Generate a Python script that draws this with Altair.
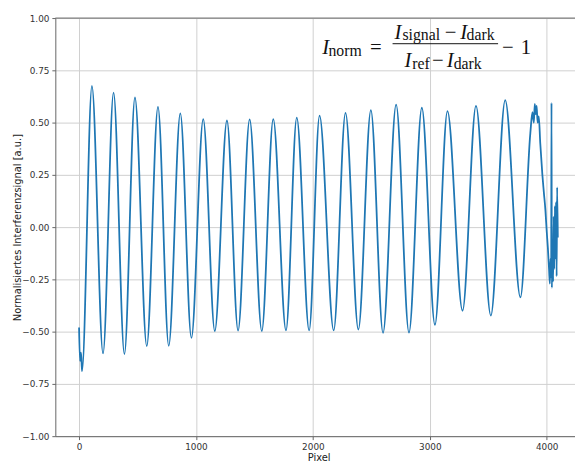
import altair as alt
import pandas as pd

# Extrema / noise points (pixel index, normalised signal)
pixel = [0, 8, 17, 25,
         110, 205, 295, 388, 478, 579, 675, 767, 866, 961,
         1062, 1161, 1265, 1360, 1459, 1563, 1661, 1770, 1862, 1968,
         2057, 2178, 2279, 2389, 2496, 2600, 2712, 2822, 2932, 3044,
         3151, 3280, 3395, 3522, 3645, 3775, 3860, 3878, 3890, 3898, 3906,
         3914, 3922, 3932, 3945, 3963, 3975, 3989, 4000, 4010, 4020, 4027,
         4033, 4038, 4041, 4044, 4050, 4055, 4060, 4065, 4070, 4075, 4080,
         4085, 4089, 4095]
signal = [-0.48, -0.64, -0.60, -0.69,
          0.675, -0.604, 0.643, -0.607, 0.62, -0.569, 0.575, -0.568, 0.544, -0.53,
          0.517, -0.497, 0.51, -0.495, 0.515, -0.497, 0.517, -0.494, 0.524, -0.494,
          0.533, -0.494, 0.547, -0.49, 0.56, -0.506, 0.586, -0.505, 0.571, -0.467,
          0.555, -0.40, 0.58, -0.423, 0.607, -0.336, 0.45, 0.55, 0.50, 0.59, 0.54,
          0.58, 0.50, 0.53, 0.40, 0.25, 0.17, 0.08, -0.02, -0.10, -0.20, -0.27,
          -0.15, -0.24, 0.594, -0.29, -0.10, -0.26, 0.05, -0.20, 0.10, -0.15, 0.12,
          -0.235, 0.19, -0.05]

x_ticks = [0, 1000, 2000, 3000, 4000]
y_ticks = [-1.0, -0.75, -0.5, -0.25, 0.0, 0.25, 0.5, 0.75, 1.0]

df = pd.DataFrame({"Pixel": pixel, "Signal": signal})

W, H = 527, 424
FONT = "DejaVu Sans"
SERIF = "Liberation Serif"

line = alt.Chart(df).mark_line(color="#1f77b4", strokeWidth=1.8,
                               interpolate="monotone", clip=True).encode(
    x=alt.X("Pixel:Q",
            scale=alt.Scale(domain=[-203, 4242], nice=False, zero=False),
            axis=alt.Axis(values=x_ticks, format="d", title="Pixel",
                          titleX=267, titleY=17, titleAnchor="middle",
                          titleAlign="center", titleBaseline="top")),
    y=alt.Y("Signal:Q",
            scale=alt.Scale(domain=[-1, 1], nice=False, zero=False),
            axis=alt.Axis(values=y_ticks, format=".2f",
                          title="Normalisiertes Interferenzsignal [a.u.]",
                          titleX=-38, titleY=H / 2, titleAngle=-90,
                          titleAlign="center", titleBaseline="middle")),
)

one = pd.DataFrame({"a": [0]})

top_spine = alt.Chart(one).mark_rule(color="#666666", strokeWidth=1).encode(
    x=alt.value(0), x2=alt.value(W), y=alt.value(0))


def txt(s, x, y, size, italic=False, align="left"):
    return alt.Chart(pd.DataFrame({"t": [s]})).mark_text(
        font=SERIF, fontSize=size, fontStyle="italic" if italic else "normal",
        align=align, baseline="alphabetic", color="#111111").encode(
        text="t:N", x=alt.value(x), y=alt.value(y))


formula = [
    txt("I", 270.7, 36.7, 21, True),
    txt("norm", 277, 38.5, 16),
    txt("=", 325, 36.7, 21, align="center"),
    txt("I", 344, 21, 21, True),
    txt("signal", 352, 22.5, 16),
    txt("\u2212", 400.7, 21, 21, align="center"),
    txt("I", 410.7, 21, 21, True),
    txt("dark", 417, 22.5, 16),
    txt("I", 354, 50, 21, True),
    txt("ref", 362, 51.5, 16),
    txt("\u2212", 388, 50, 21, align="center"),
    txt("I", 397, 50, 21, True),
    txt("dark", 404, 51.5, 16),
    txt("\u2212", 459, 36.7, 21, align="center"),
    txt("1", 472, 36.7, 21),
]

bar = alt.Chart(one).mark_rule(color="#111111", strokeWidth=1).encode(
    x=alt.value(342), x2=alt.value(449), y=alt.value(26))

chart = alt.layer(line, top_spine, bar, *formula).properties(
    width=W, height=H,
    autosize=alt.AutoSizeParams(type="none"),
    padding={"left": 48, "top": 7, "right": 0, "bottom": 24},
).configure_view(stroke=None).configure_axis(
    grid=True, gridColor="#cfcfcf", gridWidth=1,
    domainColor="#666666", domainWidth=1,
    tickColor="#666666", tickSize=3.5, tickWidth=1,
    labelFont=FONT, labelFontSize=9, labelColor="#333333", labelPadding=3,
    titleFont=FONT, titleFontSize=10, titleColor="#222222", titleFontWeight="normal",
)

chart.save("out.html", embed_options={"renderer": "svg", "actions": False})
